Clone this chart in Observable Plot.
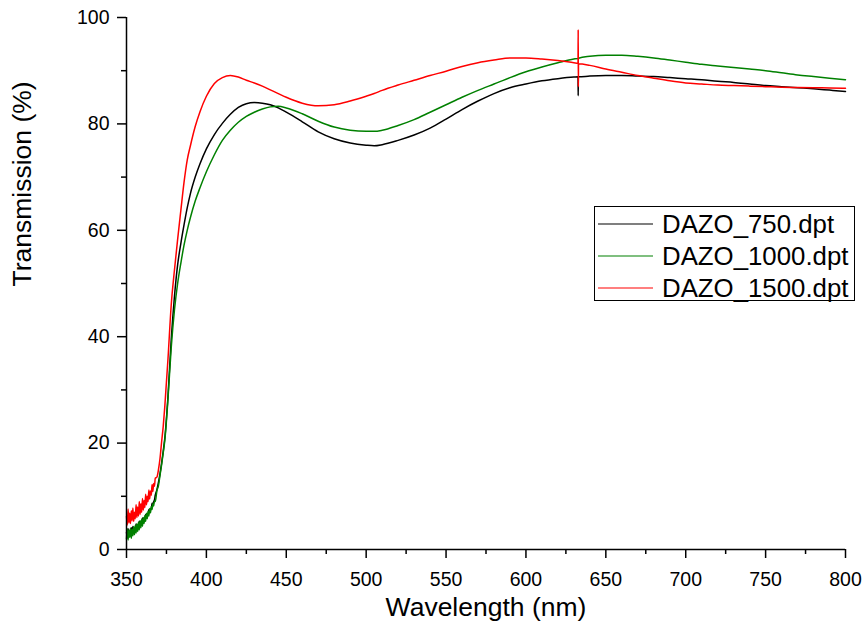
<!DOCTYPE html>
<html>
<head>
<meta charset="utf-8">
<script src="https://cdn.jsdelivr.net/npm/d3@7"></script>
<script src="https://cdn.jsdelivr.net/npm/@observablehq/plot@0.6"></script>
<style>
  html, body { margin: 0; padding: 0; background: #fff; }
  #chart { width: 868px; height: 638px; }
</style>
</head>
<body>
<div id="chart"></div>
<script>
// Wavelength grid (nm) shared by the three spectra
const wavelength = [
  350, 350.5, 351, 351.5, 352, 352.5, 353, 353.5, 354, 354.5, 355, 355.5, 356, 356.5, 357, 357.5, 358, 358.5, 359, 359.5,
  360, 360.5, 361, 361.5, 362, 362.5, 363, 363.5, 364, 364.5, 365, 365.5, 366, 366.5, 367, 367.5, 368,
  369, 370, 371, 372,
  373, 374, 376, 378, 380, 382, 384, 386, 388, 390,
  393, 396, 400, 405, 410, 415, 420, 425, 430, 435, 440, 445, 450,
  460, 470, 480, 490, 500, 505, 510, 520, 530, 540, 550, 560, 570, 580, 590, 600, 610, 620, 630,
  632.6, 632.7, 632.8, 632.9,
  640, 650, 660, 670, 680, 690, 700, 710, 720, 730, 740, 750, 760, 770, 780, 790, 800
];

// Transmission (%) of each film
const dazo750 = [
  3.2, 2.4, 3.9, 2.6, 3.6, 2.8, 4.1, 3.0, 4.3, 3.2, 4.0, 3.5, 4.8, 3.7, 4.6, 4.0, 5.3, 4.3, 5.1, 4.7,
  5.9, 5.0, 5.7, 5.5, 6.6, 5.9, 6.5, 6.4, 7.5, 7.0, 7.6, 7.6, 8.7, 8.4, 9.0, 9.3, 10.2,
  11.2, 12.6, 14.3, 16.3,
  18.5, 21.0, 29.0, 39.5, 47.5, 53.5, 57.5, 61.0, 64.2, 66.9,
  70.0, 72.5, 75.3, 78.0, 80.1, 81.8, 83.1, 83.8, 84.0, 83.9, 83.6, 83.0, 82.2,
  80.4, 78.5, 77.2, 76.4, 76.0, 75.9, 76.1, 76.9, 77.9, 79.2, 80.9, 82.7, 84.3, 85.7, 86.8, 87.5, 88.1, 88.5, 88.8,
  88.85, 85.3, 88.85, 88.85,
  89.0, 89.1, 89.1, 89.0, 88.9, 88.7, 88.5, 88.3, 88.0, 87.8, 87.5, 87.2, 87.0, 86.8, 86.6, 86.35, 86.1
];
const dazo1000 = [
  2.0, 3.9, 1.8, 3.6, 2.3, 4.0, 2.1, 3.8, 2.6, 4.3, 2.8, 4.5, 3.1, 4.8, 3.4, 5.1, 3.7, 5.4, 4.1, 5.7,
  4.4, 6.0, 4.9, 6.4, 5.3, 6.8, 5.8, 7.2, 6.3, 7.7, 6.9, 8.1, 7.5, 8.6, 8.2, 9.1, 9.0,
  11.0, 12.0, 14.0, 16.0,
  18.2, 20.6, 28.5, 38.0, 45.0, 50.0, 53.8, 57.2, 60.0, 62.4,
  65.5, 68.0, 71.0, 74.2, 76.9, 78.8, 80.3, 81.4, 82.2, 82.8, 83.2, 83.3, 83.0,
  81.9, 80.5, 79.4, 78.8, 78.6, 78.6, 78.8, 79.7, 80.8, 82.2, 83.6, 85.0, 86.3, 87.5, 88.7, 89.8, 90.7, 91.5, 92.2,
  92.3, 92.3, 92.3, 92.35,
  92.7, 92.9, 92.9, 92.7, 92.4, 92.0, 91.6, 91.2, 90.9, 90.6, 90.3, 90.0, 89.6, 89.2, 88.9, 88.6, 88.3
];
const dazo1500 = [
  6.2, 4.6, 7.6, 5.0, 6.8, 4.9, 7.3, 5.4, 7.8, 5.3, 7.0, 5.8, 8.4, 6.0, 8.0, 6.3, 9.0, 6.6, 8.6, 7.0,
  9.6, 7.4, 9.2, 7.9, 10.4, 8.4, 10.0, 9.0, 11.2, 9.5, 11.0, 10.2, 12.2, 10.9, 12.4, 11.9, 13.4,
  13.6, 15.0, 17.2, 20.3,
  23.2, 27.0, 36.0, 46.0, 52.5, 58.3, 63.7, 69.0, 73.2, 75.9,
  79.5, 82.3, 85.2, 87.6, 88.7, 89.1, 88.8, 88.2, 87.7, 87.1, 86.4, 85.7, 85.0,
  83.9, 83.4, 83.6, 84.3, 85.2, 85.7, 86.3, 87.3, 88.2, 89.1, 89.9, 90.8, 91.5, 92.0, 92.4, 92.4, 92.2, 91.9, 91.5,
  91.4, 97.7, 87.0, 91.3,
  91.0, 90.3, 89.7, 89.1, 88.6, 88.1, 87.7, 87.5, 87.3, 87.2, 87.1, 87.0, 86.9, 86.85, 86.8, 86.75, 86.7
];

const seriesNames = ["DAZO_750.dpt", "DAZO_1000.dpt", "DAZO_1500.dpt"];
const seriesColors = ["#000000", "#008000", "#ff0000"];
const seriesValues = [dazo750, dazo1000, dazo1500];

// Axis ticks
const xMajor = [350, 400, 450, 500, 550, 600, 650, 700, 750, 800];
const xMinor = [375, 425, 475, 525, 575, 625, 675, 725, 775];
const yMajor = [0, 20, 40, 60, 80, 100];
const yMinor = [10, 30, 50, 70, 90];

const rows = seriesNames.flatMap((name, i) =>
  wavelength.map((wl, j) => ({series: name, wl, t: seriesValues[i][j]}))
);

const font = "'Liberation Sans', Arial, sans-serif";

const chart = Plot.plot({
  width: 868,
  height: 638,
  marginLeft: 126,
  marginRight: 23,
  marginTop: 17,
  marginBottom: 89,
  style: {fontFamily: font, background: "#fff", color: "#000"},
  x: {domain: [350, 800], label: null},
  y: {domain: [0, 100], label: null},
  color: {domain: seriesNames, range: seriesColors},
  marks: [
    Plot.line(rows, {x: "wl", y: "t", z: "series", stroke: "series", strokeWidth: 1.5, curve: "monotone-x"}),
    Plot.ruleY([0], {stroke: "#000", strokeWidth: 1.5}),
    Plot.ruleX([350], {stroke: "#000", strokeWidth: 1.5}),
    Plot.axisX({ticks: xMajor, tickSize: 9, tickPadding: 14, fontSize: 19.5, tickFormat: d => d, strokeWidth: 1.5, label: null}),
    Plot.axisX({ticks: xMinor, tickSize: 5, tickFormat: () => "", strokeWidth: 1.5, label: null}),
    Plot.axisY({ticks: yMajor, tickSize: 9, tickPadding: 8, fontSize: 19.5, tickFormat: d => d, strokeWidth: 1.5, label: null}),
    Plot.axisY({ticks: yMinor, tickSize: 5, tickFormat: () => "", strokeWidth: 1.5, label: null}),
    Plot.text(["Wavelength (nm)"], {frameAnchor: "bottom", dy: 66, fontSize: 26.5}),
    Plot.text(["Transmission (%)"], {frameAnchor: "left", dx: -104, dy: 3, rotate: -90, fontSize: 26.5})
  ]
});

document.getElementById("chart").appendChild(chart);

// Legend box in the upper right of the plot area
const svg = d3.select(chart);
const lg = svg.append("g").attr("font-family", font).attr("text-anchor", "start");
lg.append("rect")
  .attr("x", 594.5).attr("y", 206.5).attr("width", 260).attr("height", 94)
  .attr("fill", "#fff").attr("stroke", "#000").attr("stroke-width", 1);
seriesNames.forEach((name, i) => {
  const base = 233 + i * 32;
  lg.append("line")
    .attr("x1", 598).attr("x2", 653).attr("y1", base - 9).attr("y2", base - 9)
    .attr("stroke", seriesColors[i]).attr("stroke-width", 1.2);
  lg.append("text")
    .attr("x", 662).attr("y", base).attr("font-size", 25.8).attr("fill", "#000")
    .attr("text-anchor", "start")
    .text(name);
});
</script>
</body>
</html>
